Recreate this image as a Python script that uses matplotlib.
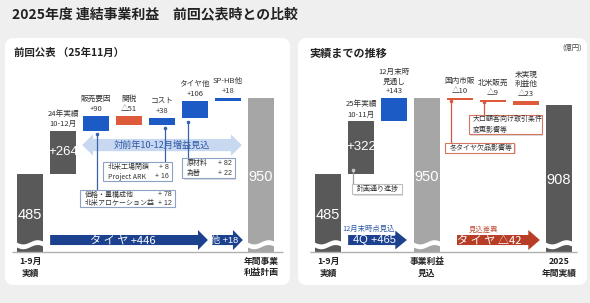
import matplotlib
matplotlib.use('Agg')
import matplotlib.pyplot as plt
from matplotlib.patches import FancyBboxPatch, Polygon, Rectangle
import numpy as np

JP = ['Noto Sans CJK JP', 'DejaVu Sans']
NUM = ['Liberation Sans', 'Noto Sans CJK JP', 'DejaVu Sans']
plt.rcParams['font.family'] = JP

# ---------------- data ----------------
left_start = 485
left_step_names = ['24年実績\n10-12月', '販売要因', '関税', 'コスト', 'タイヤ他', 'SP-HB他']
left_steps = [264, 90, -51, 38, 106, 18]
left_total = 950
left_xlabels = ['1-9月\n実績', '年間事業\n利益計画']

sales_items = ['価格・量構成他', '北米アロケーション益']
sales_vals = [78, 12]
cost_items = ['北米工場閉鎖', 'Project ARK']
cost_vals = [8, 16]
tire_items = ['原材料', '為替']
tire_vals = [82, 22]
left_arrow_names = ['タ イ ヤ', '他']
left_arrow_vals = [446, 18]
left_band_text = '対前年10-12月増益見込'

right_start = 485
right_step_names = ['25年実績\n10-11月', '12月末時\n見通し']
right_steps = [322, 143]
right_forecast = 950
right_diff_names = ['国内市販', '北米販売', '未実現\n利益他']
right_diffs = [-10, -9, -23]
right_total = 908
right_xlabels = ['1-9月\n実績', '事業利益\n見込', '2025\n年間実績']
right_notes = ['計画通り進捗', '冬タイヤ欠品影響等', '大口顧客向け取引条件\n変更影響等']
q4_label, q4_val = '4Q', 465
diff_label, diff_val = 'タ イ ヤ', -42

# ---------------- style ----------------
DARK = '#595959'
LIGHT = '#a6a6a6'
BLUE = '#1c5bc5'
RED = '#dd5b3b'
NAVY = '#1b418f'
LBLUE = '#c8d8f1'
ARED = '#b83d27'
TXT = '#333333'
LFS = 5.5   # label font size
BFS = 5.0   # box font size


def fmt(v):
    return f'+{v}' if v > 0 else f'△{-v}'


W, H = 590, 303
fig = plt.figure(figsize=(W / 100, H / 100), dpi=100)
fig.patch.set_facecolor('#efefef')
bg = fig.add_axes([0, 0, 1, 1])
bg.set_xlim(0, W)
bg.set_ylim(H, 0)
bg.axis('off')
for (x0, x1) in [(5, 290), (298, 587)]:
    bg.add_patch(FancyBboxPatch((x0, 38), x1 - x0, 247, boxstyle='round,pad=0,rounding_size=9',
                                fc='white', ec='none'))
bg.text(12, 14, '2025年度 連結事業利益　前回公表時との比較', fontsize=10, fontweight='bold',
        va='center', ha='left', color='#222222')
bg.text(14, 53, '前回公表 （25年11月）', fontsize=7.5, fontweight='bold', va='center', color='#222222')
bg.text(309, 53, '実績までの推移', fontsize=8, fontweight='bold', va='center', color='#222222')
bg.text(582, 48, '(億円)', fontsize=5.3, va='center', ha='right', color='#444444')

K = 0.1618   # px per unit
BASE = 252
SP = 33
BW = 26 / 33


def panel_axes(px0, px1, c0):
    ax = fig.add_axes([px0 / W, 1 - 285 / H, (px1 - px0) / W, 247 / H])
    ax.set_xlim((px0 - c0) / SP, (px1 - c0) / SP)
    ax.set_ylim((BASE - 285) / K, (BASE - 38) / K)
    ax.axis('off')
    ax.patch.set_alpha(0)
    return ax


axL = panel_axes(5, 290, 30)
axR = panel_axes(298, 587, 328)


def wave(ax, x):
    t = np.linspace(0, 1, 80)
    xx = x - (BW / 2 + 0.04) + t * (BW + 0.08)
    yc = 48 - 13 * np.sin(2 * np.pi * t)
    ax.fill_between(xx, yc - 15, yc + 15, color='white', lw=0, zorder=3)


def arrow_poly(ax, x0, x1, yc, bh, hh, hl, color, double=False, z=3):
    if double:
        pts = [(x0, yc), (x0 + hl, yc + hh), (x0 + hl, yc + bh), (x1 - hl, yc + bh), (x1 - hl, yc + hh),
               (x1, yc), (x1 - hl, yc - hh), (x1 - hl, yc - bh), (x0 + hl, yc - bh), (x0 + hl, yc - hh)]
    else:
        pts = [(x0, yc + bh), (x1 - hl, yc + bh), (x1 - hl, yc + hh), (x1, yc), (x1 - hl, yc - hh),
               (x1 - hl, yc - bh), (x0, yc - bh)]
    ax.add_patch(Polygon(pts, closed=True, fc=color, ec='none', zorder=z))


def box(ax, x0, x1, y0, y1, ec):
    ax.add_patch(Rectangle((x0 + 0.045, y0 - 9), x1 - x0, y1 - y0, fc='#dcdcdc', ec='none', zorder=5))
    ax.add_patch(Rectangle((x0, y0), x1 - x0, y1 - y0, fc='white', ec=ec, lw=0.8, zorder=6))


def callout(ax, x, y, ytop, color, dotc=None):
    ax.plot([x, x], [y, ytop], color=color, lw=0.9, zorder=4.5)
    ax.plot([x], [y], 'o', ms=2.6, color=dotc or color, zorder=4.6, mec='none')


def item_box(ax, x0, x1, y0, y1, names, vals, ec):
    box(ax, x0, x1, y0, y1, ec)
    n = len(names)
    h = y1 - y0
    for j, (nm, v) in enumerate(zip(names, vals)):
        yy = y1 - h * (j + 0.5) / n - 2
        ax.text(x0 + 0.14, yy, nm, fontsize=BFS, color=TXT, va='center', ha='left', zorder=7)
        ax.text(x1 - 0.09, yy, f'+ {v}', fontsize=BFS, color=TXT, va='center', ha='right',
                family=NUM, zorder=7)


# ---------------- left panel ----------------
ax = axL
cum = left_start + np.concatenate([[0], np.cumsum(left_steps)])
ax.bar(0, left_start, width=BW, color=DARK, zorder=2)
for i, v in enumerate(left_steps):
    x = i + 1
    bot = min(cum[i], cum[i + 1])
    col = DARK if i == 0 else (BLUE if v > 0 else RED)
    ax.bar(x, abs(v), bottom=bot, width=BW, color=col, zorder=2)
    top = max(cum[i], cum[i + 1])
    if i == 0:
        ax.text(x, top + 18, left_step_names[i], fontsize=LFS, ha='center', va='bottom',
                color=TXT, linespacing=1.35)
        ax.text(x, bot + abs(v) / 2, fmt(v), fontsize=9.5, ha='center', va='center',
                color='white', family=NUM, zorder=5)
    else:
        ax.text(x, top + 18, left_step_names[i] + '\n' + fmt(v), fontsize=LFS, ha='center',
                va='bottom', color=TXT, linespacing=1.4)
ax.bar(7, left_total, width=BW, color=LIGHT, zorder=2)
ax.text(0, left_start * 0.47, str(left_start), fontsize=10.5, color='white', ha='center',
        va='center', family=NUM, zorder=5)
ax.text(7, left_total * 0.49, str(left_total), fontsize=10.5, color='white', ha='center',
        va='center', family=NUM, zorder=5)
wave(ax, 0)
wave(ax, 7)
ax.plot([-0.55, 7.67], [0, 0], color='#b0b0b0', lw=1.0, zorder=4, solid_capstyle='butt')
ax.text(0, -33, left_xlabels[0], fontsize=6.3, fontweight='bold', ha='center', va='top',
        linespacing=1.3, color='#222222')
ax.text(7, -33, left_xlabels[1], fontsize=6.3, fontweight='bold', ha='center', va='top',
        linespacing=1.3, color='#222222')

# light blue band arrow
arrow_poly(ax, 1.58, 6.42, 661, 38, 66, 0.33, LBLUE, double=True, z=1.5)
ax.text(4.0, 661, left_band_text, fontsize=6.6, color='#2d58a6', ha='center', va='center', zorder=4)

# callouts
CL = '#3763ad'
EC = '#8ea2c8'
callout(ax, 2 + 0.03, cum[1] - 20, 383, CL)
item_box(ax, 1.52, 4.39, 278, 383, sales_items, sales_vals, EC)
callout(ax, 4 + 0.09, cum[3] - 22, 556, CL)
item_box(ax, 2.21, 4.30, 439, 556, cost_items, cost_vals, EC)
callout(ax, 5 - 0.21, cum[4] - 22, 581, CL)
item_box(ax, 4.61, 6.21, 457, 581, tire_items, tire_vals, EC)

# bottom arrows
arrow_poly(ax, 0.61, 5.39, 74, 31, 62, 0.3, NAVY)
ax.text(2.8, 72, f'{left_arrow_names[0]} {fmt(left_arrow_vals[0])}', fontsize=8, color='white',
        ha='center', va='center', zorder=5)
arrow_poly(ax, 5.52, 6.45, 74, 31, 62, 0.3, NAVY)
ax.text(5.9, 72, f'{left_arrow_names[1]} {fmt(left_arrow_vals[1])}', fontsize=6.6, color='white',
        ha='center', va='center', family=NUM, zorder=5)

# ---------------- right panel ----------------
ax = axR
rc = right_start + np.concatenate([[0], np.cumsum(right_steps)])
ax.bar(0, right_start, width=BW, color=DARK, zorder=2)
for i, v in enumerate(right_steps):
    x = i + 1
    bot = min(rc[i], rc[i + 1])
    top = max(rc[i], rc[i + 1])
    col = DARK if i == 0 else BLUE
    ax.bar(x, abs(v), bottom=bot, width=BW, color=col, zorder=2)
    if i == 0:
        ax.text(x, top + 18, right_step_names[i], fontsize=LFS, ha='center', va='bottom',
                color=TXT, linespacing=1.35)
        ax.text(x, bot + abs(v) / 2, fmt(v), fontsize=9.5, ha='center', va='center',
                color='white', family=NUM, zorder=5)
    else:
        ax.text(x, top + 18, right_step_names[i] + '\n' + fmt(v), fontsize=LFS, ha='center',
                va='bottom', color=TXT, linespacing=1.3)
ax.bar(3, right_forecast, width=BW, color=LIGHT, zorder=2)
dc = right_forecast + np.concatenate([[0], np.cumsum(right_diffs)])
for i, v in enumerate(right_diffs):
    x = i + 4
    bot = min(dc[i], dc[i + 1])
    ax.bar(x, max(abs(v), 11), bottom=bot + abs(v) - max(abs(v), 11), width=BW, color=RED, zorder=2)
    ax.text(x, dc[i] + 20, right_diff_names[i] + '\n' + fmt(v), fontsize=LFS, ha='center',
            va='bottom', color=TXT, linespacing=1.3)
ax.bar(7, right_total, width=BW, color=DARK, zorder=2)
for x, v, f in [(0, right_start, 0.47), (3, right_forecast, 0.49), (7, right_total, 0.49)]:
    ax.text(x, v * f, str(v), fontsize=10.5, color='white', ha='center', va='center',
            family=NUM, zorder=5)
    wave(ax, x)
ax.plot([-0.55, 7.55], [0, 0], color='#b0b0b0', lw=1.0, zorder=4, solid_capstyle='butt')
for x, lab in zip([0, 3, 7], right_xlabels):
    ax.text(x, -33, lab, fontsize=6.3, fontweight='bold', ha='center', va='top',
            linespacing=1.3, color='#222222')

# callouts right
callout(ax, 1 - 0.24, rc[0] + 22, 420, '#9a9a9a', '#c8c8c8')
box(ax, 0.73, 2.24, 358, 420, '#bdbdbd')
ax.text(0.88, 387, right_notes[0], fontsize=BFS, color=TXT, va='center', ha='left', zorder=7)

RL = '#cf5a40'
callout(ax, 4 - 0.27, dc[1] - 7, 674, RL)
box(ax, 3.55, 5.64, 612, 674, '#d67560')
ax.text(3.70, 641, right_notes[1], fontsize=BFS, color=TXT, va='center', ha='left', zorder=7)
callout(ax, 5 - 0.27, dc[2] - 6, 847, RL)
box(ax, 4.27, 6.48, 729, 847, '#d67560')
ax.text(4.39, 788, right_notes[2], fontsize=BFS, color=TXT, va='center', ha='left',
        linespacing=1.35, zorder=7)

# bottom arrows right
arrow_poly(ax, 0.61, 2.39, 74, 31, 58, 0.35, NAVY)
ax.text(1.42, 72, f'{q4_label} {fmt(q4_val)}', fontsize=8, color='white', ha='center',
        va='center', family=NUM, zorder=5)
ax.text(1.24, 140, '12月末時点見込', fontsize=5.3, color='#2d58a6', ha='center', va='center')
arrow_poly(ax, 3.91, 6.42, 74, 31, 62, 0.35, ARED)
ax.text(4.88, 72, f'{diff_label} {fmt(diff_val)}', fontsize=8, color='white', ha='center',
        va='center', zorder=5)
ax.text(4.7, 140, '見込差異', fontsize=5.3, color='#c0503a', ha='center', va='center')

fig.savefig('out.png', dpi=100, facecolor=fig.get_facecolor())
